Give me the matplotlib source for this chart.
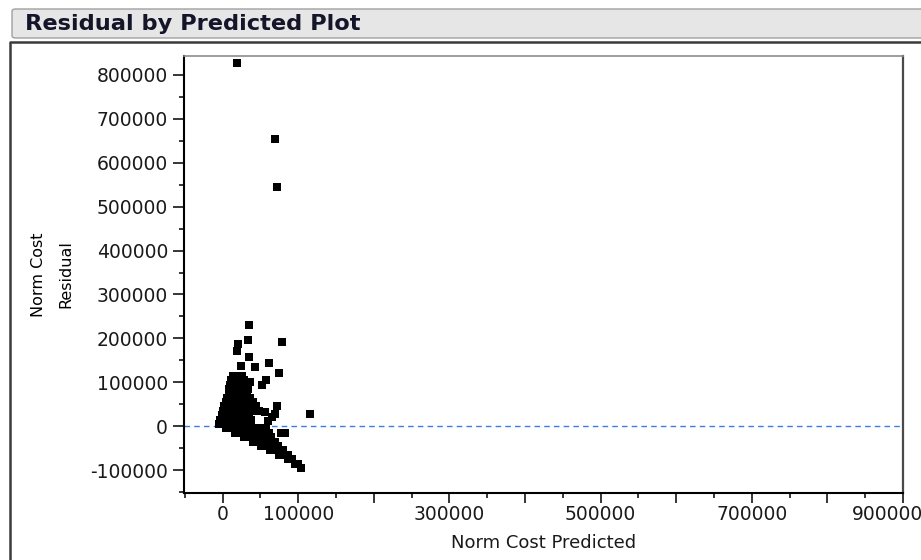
import matplotlib
matplotlib.use("Agg")
import matplotlib.pyplot as plt
from matplotlib.patches import FancyBboxPatch
from matplotlib.lines import Line2D
from matplotlib.ticker import MultipleLocator, FuncFormatter
from matplotlib.transforms import ScaledTranslation

# ---------------- data ----------------
outlier_pred = [19000, 69000, 72000]
outlier_resid = [827000, 654000, 544000]

scatter_pred = [35000, 33000, 21000, 19000, 78000, 35000, 24000, 43000, 62000,
                75000, 57000, 52000, 115000, 56000, 65000, 69000, 72000, 60000]
scatter_resid = [230000, 197000, 187000, 172000, 191000, 157000, 137000, 136000, 144000,
                 121000, 106000, 93000, 27000, 33000, 22000, 28000, 46000, 12000]

cluster_pred = [
    14000, 20000, 26000,
    11000, 17000, 23000, 29000, 36000,
    10000, 16000, 22000, 28000, 33000,
    9000, 15000, 21000, 27000, 33000,
    8000, 14000, 20000, 26000, 32000,
    6000, 12000, 18000, 24000, 30000, 36000,
    4000, 10000, 16000, 22000, 28000, 34000, 40000,
    2000, 8000, 14000, 20000, 26000, 32000, 38000, 44000,
    0, 6000, 12000, 18000, 24000, 30000, 36000, 42000, 48000,
    -1000, 5000, 11000, 17000, 23000, 29000, 35000,
    -3000, 3000, 9000, 15000, 21000, 27000, 33000, 37000,
    -5000, 1000, 7000, 13000, 19000, 25000, 31000, 37000,
    5000, 11000, 17000, 23000, 29000, 35000, 41000, 47000, 53000, 58000,
    17000, 23000, 29000, 35000, 41000, 47000, 53000, 58000, 62000, 77000, 83000,
    28000, 34000, 40000, 46000, 52000, 58000, 64000,
    40000, 46000, 52000, 58000, 64000, 69000,
    51000, 57000, 63000, 69000, 73000,
    63000, 69000, 75000, 80000,
    74000, 80000, 86000,
    86000, 92000,
    96000, 100000,
    104000,
]
cluster_resid = [
    115000, 115000, 115000,
    105000, 105000, 105000, 105000, 101000,
    95000, 95000, 95000, 95000, 95000,
    85000, 85000, 85000, 85000, 85000,
    75000, 75000, 75000, 75000, 75000,
    65000, 65000, 65000, 65000, 65000, 65000,
    55000, 55000, 55000, 55000, 55000, 55000, 55000,
    45000, 45000, 45000, 45000, 45000, 45000, 45000, 45000,
    35000, 35000, 35000, 35000, 35000, 35000, 35000, 35000, 35000,
    25000, 25000, 25000, 25000, 25000, 25000, 25000,
    15000, 15000, 15000, 15000, 15000, 15000, 15000, 15000,
    5000, 5000, 5000, 5000, 5000, 5000, 5000, 5000,
    -5000, -5000, -5000, -5000, -5000, -5000, -5000, -5000, -5000, -5000,
    -15000, -15000, -15000, -15000, -15000, -15000, -15000, -15000, -15000, -16000, -16000,
    -25000, -25000, -25000, -25000, -25000, -25000, -25000,
    -35000, -35000, -35000, -35000, -35000, -35000,
    -45000, -45000, -45000, -45000, -45000,
    -55000, -55000, -55000, -55000,
    -65000, -65000, -65000,
    -75000, -75000,
    -85000, -85000,
    -95000,
]

x_labeled_ticks = [0, 100000, 300000, 500000, 700000]
x_last_tick = 900000
title_text = "Residual by Predicted Plot"
x_label = "Norm Cost Predicted"
y_label = "Norm Cost\nResidual"

# ---------------- figure ----------------
W, H = 921, 560
fig = plt.figure(figsize=(W / 100, H / 100), dpi=100)
fig.patch.set_facecolor("white")
plt.rcParams["font.family"] = ["DejaVu Sans"]

TICK_FS = 13.5
X_MAJ_LEN, X_PAD = 7, 1.5

# title bar
bar = FancyBboxPatch((12 / W, 1 - 38 / H), (940 - 12) / W, 29 / H,
                     boxstyle="round,pad=0,rounding_size=0.004",
                     transform=fig.transFigure, fc="#e6e6e6", ec="#a0a0a0", lw=1.0)
fig.add_artist(bar)
fig.text(25 / W, 1 - 23.5 / H, title_text, fontsize=16.2, fontweight="bold",
         ha="left", va="center", color="#15152a")

# outer panel frame
fig.add_artist(Line2D([9.5 / W, 9.5 / W, 1.01], [-0.01, 1 - 42 / H, 1 - 42 / H],
                      transform=fig.transFigure, color="#3a3a3a", lw=1.8))

ax = fig.add_axes([184 / W, 1 - 493 / H, (903 - 184) / W, (493 - 56) / H])
ax.set_xlim(-51000, 900000)
ax.set_ylim(-152000, 843000)

ax.axhline(0, color="#3d7bea", lw=1.0, ls=(0, (4, 3)), zorder=1)

allx = outlier_pred + scatter_pred + cluster_pred
ally = outlier_resid + scatter_resid + cluster_resid
ax.scatter(allx, ally, marker="s", s=26, c="black", linewidths=0, zorder=3)

# spines
for side in ["left", "bottom"]:
    ax.spines[side].set_color("black")
    ax.spines[side].set_linewidth(1.5)
ax.spines["top"].set_color("#8c8c8c")
ax.spines["top"].set_linewidth(1.2)
ax.spines["right"].set_color("#4a4a4a")
ax.spines["right"].set_linewidth(1.6)

# ticks
ax.yaxis.set_major_locator(MultipleLocator(100000))
ax.yaxis.set_minor_locator(MultipleLocator(50000))
ax.xaxis.set_major_locator(MultipleLocator(100000))
ax.xaxis.set_minor_locator(MultipleLocator(50000))
ax.yaxis.set_major_formatter(FuncFormatter(lambda v, p: f"{int(round(v))}"))
ax.xaxis.set_major_formatter(FuncFormatter(
    lambda v, p: f"{int(round(v))}" if int(round(v)) in x_labeled_ticks else ""))
ax.tick_params(axis="both", which="major", width=1.1, color="black",
               labelsize=TICK_FS, labelcolor="#1a1a1a", direction="out")
ax.tick_params(axis="both", which="minor", length=3.5, width=1.1, color="black",
               direction="out")
ax.tick_params(axis="y", which="major", length=8, pad=3.5)
ax.tick_params(axis="x", which="major", length=X_MAJ_LEN, pad=X_PAD)

# last x tick label is shifted left by the original software to stay inside
last_tr = ax.get_xaxis_transform() + ScaledTranslation(
    -0.16, -(X_MAJ_LEN + X_PAD) / 72, fig.dpi_scale_trans)
ax.text(x_last_tick, 0, f"{x_last_tick}", transform=last_tr, ha="center", va="top",
        fontsize=TICK_FS, color="#1a1a1a", clip_on=False)

ax.set_xlabel(x_label, fontsize=13, color="#1a1a1a", labelpad=7)
ax.set_ylabel(y_label, fontsize=11.5, color="black", linespacing=2.0)
ax.yaxis.set_label_coords(-0.154, 0.5)

fig.savefig("out.png", dpi=100, facecolor="white")
